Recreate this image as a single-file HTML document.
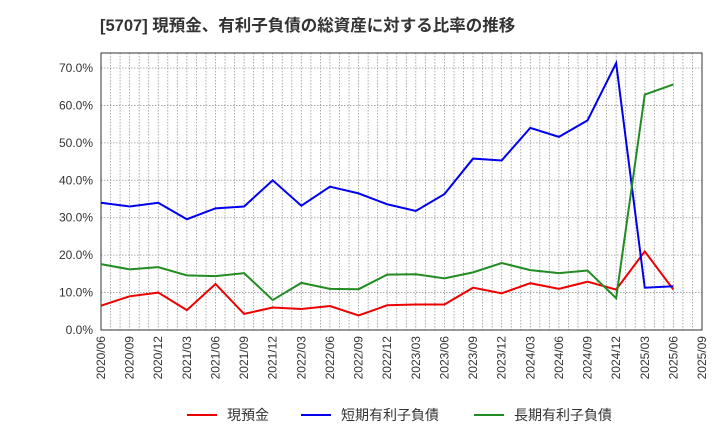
<!DOCTYPE html>
<html><head><meta charset="utf-8"><style>
body{margin:0;background:#fff;font-family:"Liberation Sans","Noto Sans CJK JP",sans-serif;}
svg text{font-family:"Liberation Sans","Noto Sans CJK JP",sans-serif;}
</style></head><body>
<svg id="c" width="720" height="440" xmlns="http://www.w3.org/2000/svg">
<text x="100" y="31" font-size="16.5" font-weight="bold" fill="#333">[5707]  現預金、有利子負債の総資産に対する比率の推移</text>
</svg>
<script>
const xLabels=["2020/06","2020/09","2020/12","2021/03","2021/06","2021/09","2021/12","2022/03","2022/06","2022/09","2022/12","2023/03","2023/06","2023/09","2023/12","2024/03","2024/06","2024/09","2024/12","2025/03","2025/06","2025/09"];
const yTicks=[0,10,20,30,40,50,60,70];
const cash=[6.5,9.0,10.0,5.3,12.3,4.3,6.0,5.6,6.4,3.9,6.6,6.8,6.8,11.3,9.8,12.5,11.0,12.9,10.8,21.0,10.8];
const shortDebt=[34.0,33.0,34.0,29.6,32.5,33.0,40.0,33.2,38.3,36.5,33.6,31.8,36.3,45.8,45.3,54.0,51.6,56.0,71.3,11.3,11.7];
const longDebt=[17.6,16.2,16.8,14.6,14.4,15.2,8.0,12.6,11.0,10.9,14.8,14.9,13.8,15.4,17.9,16.0,15.2,15.9,8.5,62.9,65.6];
const svg=document.getElementById('c');const NS="http://www.w3.org/2000/svg";
const L=101,R=702,T=53,B=330;
const step=(R-L)/(xLabels.length-1);
const X=i=>L+i*step;
const Y=v=>B-v*(B-68)/70;
function mk(t,a){const e=document.createElementNS(NS,t);for(const k in a)e.setAttribute(k,a[k]);svg.appendChild(e);return e;}
for(let m=1;m<(xLabels.length-1)*3;m++){const x=L+m*step/3;
const g=mk('line',{x1:x,x2:x,y1:T,y2:B,stroke:'#999','stroke-width':0.8,'stroke-dasharray':'1.5,1.5'});

}
yTicks.forEach(v=>{const y=Y(v);
const g=mk('line',{x1:L,x2:R,y1:y,y2:y,stroke:'#999','stroke-width':0.8,'stroke-dasharray':'1.5,1.5'});


const t=mk('text',{x:L-8,y:y+4,'font-size':12,'text-anchor':'end',fill:'#333'});t.textContent=v.toFixed(1)+'%';

});
xLabels.forEach((s,i)=>{const x=X(i);
const t=mk('text',{x:0,y:0,'font-size':12,'text-anchor':'end',fill:'#333',transform:`translate(${x+4},${B+6}) rotate(-90)`});t.textContent=s;

});
const fr=mk('rect',{x:L,y:T,width:R-L,height:B-T,fill:'none',stroke:'#333','stroke-width':1});


function line(d,c,n){const p=mk('polyline',{points:d.map((v,i)=>X(i)+','+Y(v)).join(' '),fill:'none',stroke:c,'stroke-width':2});

}
line(cash,'#ee0000','cash-line');line(shortDebt,'#0000ee','short-term-debt-line');line(longDebt,'#228b22','long-term-debt-line');
const leg=[['現預金','#ee0000',187],['短期有利子負債','#0000ee',301],['長期有利子負債','#228b22',474]];
leg.forEach(([s,c,x])=>{const l=mk('line',{x1:x,x2:x+30,y1:415,y2:415,stroke:c,'stroke-width':2});


const t=mk('text',{x:x+40,y:420,'font-size':14,fill:'#333'});t.textContent=s;

});
</script>
</body></html>
